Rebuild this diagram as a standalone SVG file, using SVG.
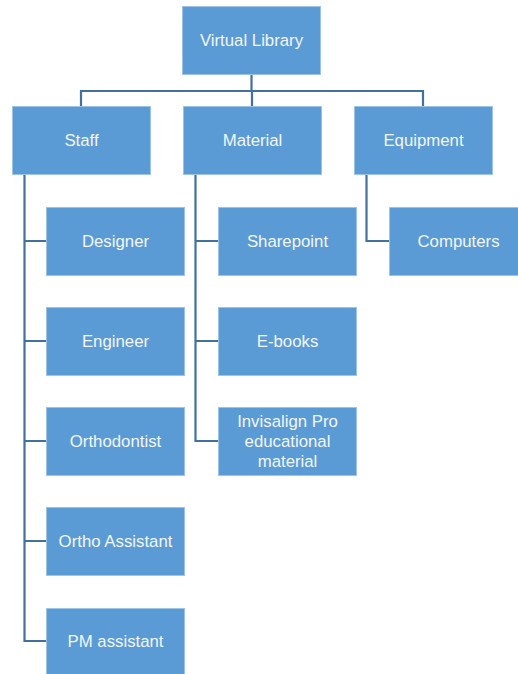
<svg xmlns="http://www.w3.org/2000/svg" width="518" height="674" viewBox="0 0 518 674">
  <style>
    .box { fill: #5B9BD5; stroke: #9DC3E6; stroke-width: 1; }
    .lbl { fill: #F2F6FB; font-family: "Liberation Sans", "DejaVu Sans", sans-serif; font-size: 16.8px; text-anchor: middle; dominant-baseline: central; }
    .wire { fill: none; stroke: #41719C; stroke-width: 2.2; }
  </style>
  <rect width="518" height="674" fill="#FFFFFF"/>

  <g id="connectors">
    <path class="wire" d="M251.5 74 V91"/>
    <path class="wire" d="M81 106 V91 H423 V106"/>
    <path class="wire" d="M252 91 V106"/>
    <path class="wire" d="M24.5 174 V641 H46"/>
    <path class="wire" d="M24.5 241 H46 M24.5 341 H46 M24.5 441 H46 M24.5 541 H46"/>
    <path class="wire" d="M195.5 174 V441 H218"/>
    <path class="wire" d="M195.5 241 H218 M195.5 341 H218"/>
    <path class="wire" d="M366.5 174 V241 H389"/>
  </g>

  <g id="virtual-library">
    <rect class="box" x="182.5" y="6.5" width="138" height="68"/>
    <text class="lbl" x="251.5" y="40.5">Virtual Library</text>
  </g>
  <g id="staff">
    <rect class="box" x="12.5" y="106.5" width="138" height="68"/>
    <text class="lbl" x="81.5" y="140.5">Staff</text>
  </g>
  <g id="material">
    <rect class="box" x="183.5" y="106.5" width="138" height="68"/>
    <text class="lbl" x="252.5" y="140.5">Material</text>
  </g>
  <g id="equipment">
    <rect class="box" x="354.5" y="106.5" width="138" height="68"/>
    <text class="lbl" x="423.5" y="140.5">Equipment</text>
  </g>

  <g id="designer">
    <rect class="box" x="46.5" y="207.5" width="138" height="68"/>
    <text class="lbl" x="115.5" y="241.5">Designer</text>
  </g>
  <g id="engineer">
    <rect class="box" x="46.5" y="307.5" width="138" height="68"/>
    <text class="lbl" x="115.5" y="341.5">Engineer</text>
  </g>
  <g id="orthodontist">
    <rect class="box" x="46.5" y="407.5" width="138" height="68"/>
    <text class="lbl" x="115.5" y="441.5">Orthodontist</text>
  </g>
  <g id="ortho-assistant">
    <rect class="box" x="46.5" y="507.5" width="138" height="68"/>
    <text class="lbl" x="115.5" y="541.5">Ortho Assistant</text>
  </g>
  <g id="pm-assistant">
    <rect class="box" x="46.5" y="608.5" width="138" height="68"/>
    <text class="lbl" x="115.5" y="641.5">PM assistant</text>
  </g>

  <g id="sharepoint">
    <rect class="box" x="218.5" y="207.5" width="138" height="68"/>
    <text class="lbl" x="287.5" y="241.5">Sharepoint</text>
  </g>
  <g id="e-books">
    <rect class="box" x="218.5" y="307.5" width="138" height="68"/>
    <text class="lbl" x="287.5" y="341.5">E-books</text>
  </g>
  <g id="invisalign">
    <rect class="box" x="218.5" y="407.5" width="138" height="68"/>
    <text class="lbl" x="287.5" y="421.5">Invisalign Pro</text>
    <text class="lbl" x="287.5" y="441.5">educational</text>
    <text class="lbl" x="287.5" y="461.5">material</text>
  </g>

  <g id="computers">
    <rect class="box" x="389.5" y="207.5" width="138" height="68"/>
    <text class="lbl" x="458.5" y="241.5">Computers</text>
  </g>
</svg>
